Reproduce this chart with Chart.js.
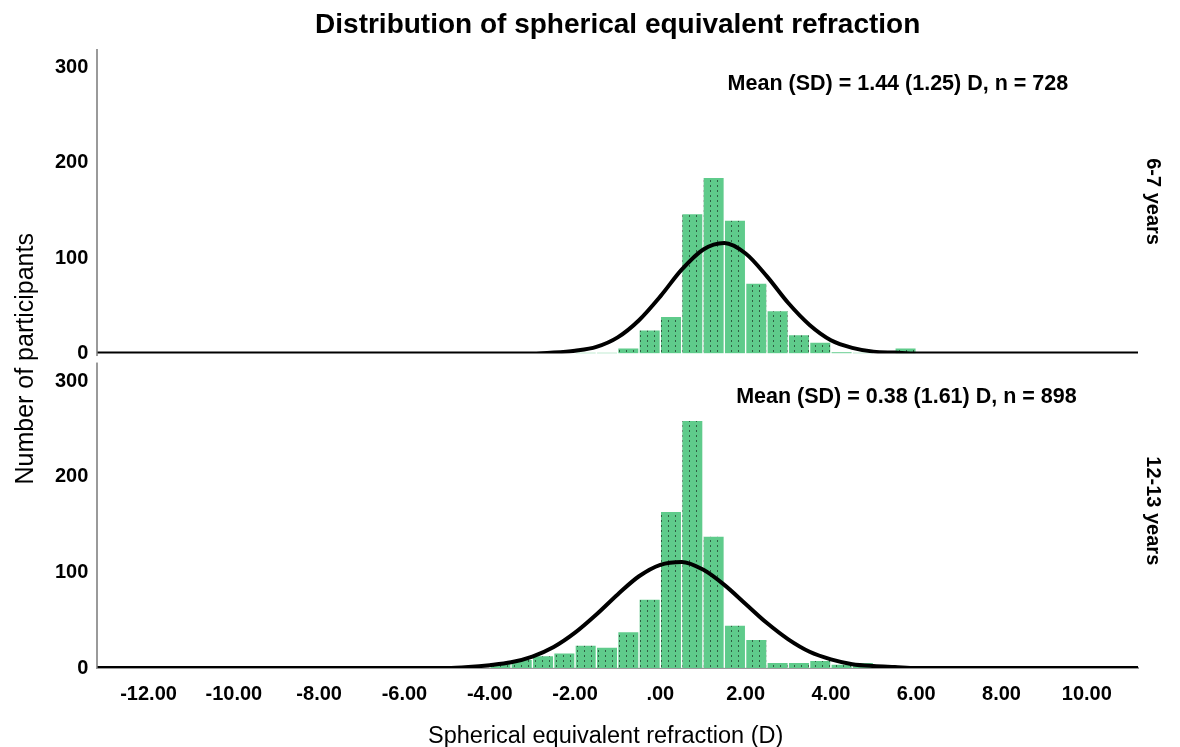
<!DOCTYPE html>
<html>
<head>
<meta charset="utf-8">
<title>Distribution of spherical equivalent refraction</title>
<script src="https://cdn.jsdelivr.net/npm/chart.js@4.4.1/dist/chart.umd.min.js"></script>
<style>
  html, body { margin: 0; padding: 0; background: #fff; }
  #wrap { width: 1180px; height: 747px; }
</style>
</head>
<body>
<div id="wrap"><canvas id="seChart"></canvas></div>
<script>
// histogram bins, 0.5 D wide (bin centres)
var binCenters = [-3.75, -3.25, -2.75, -2.25, -1.75, -1.25, -0.75, -0.25, 0.25, 0.75,
                  1.25, 1.75, 2.25, 2.75, 3.25, 3.75, 4.25, 4.75, 5.25, 5.75];
var counts67   = [0, 0, 0, 0, 1, 1, 6, 25, 39, 147, 185, 140, 74, 45, 20, 12, 2, 1, 0, 6];
var counts1213 = [6, 9, 13, 16, 24, 22, 38, 72, 164, 259, 138, 45, 30, 6, 6, 8, 4, 6, 1, 0];

// normal curve
var curveX = [-13.2, -6, -5.5, -5, -4.5, -4, -3.5, -3, -2.5, -2, -1.5, -1, -0.5, 0, 0.5,
              1, 1.5, 2, 2.5, 3, 3.5, 4, 4.5, 5, 5.5, 6, 6.5, 7, 11.2];
var curve67   = [0, 0, 0, 0, 0, 0, 0, 0, 1, 3, 7, 17, 35, 60, 88,
                 109, 116, 105, 81, 53, 30, 14, 6, 2, 1, 0, 0, 0, 0];
var curve1213 = [0, 0, 0, 0, 1, 3, 6, 12, 22, 37, 56, 77, 96, 108, 111,
                 103, 87, 67, 47, 30, 17, 9, 4, 2, 1, 0, 0, 0, 0];

var xTickValues = [-12, -10, -8, -6, -4, -2, 0, 2, 4, 6, 8, 10];
var panelLabels = ['6-7 years', '12-13 years'];
var panelNotes = ['Mean (SD) = 1.44 (1.25) D, n = 728', 'Mean (SD) = 0.38 (1.61) D, n = 898'];

var FONT = "'Liberation Sans', Arial, Helvetica, sans-serif";
Chart.defaults.font.family = FONT;
Chart.defaults.color = '#000';

function toPoints(xs, ys) {
	var out = [];
	for (var i = 0; i < xs.length; i++) {
		out.push({x: xs[i], y: ys[i]});
	}
	return out;
}

// green fill with the little dotted columns spss puts in the bars
function dottedFill() {
	var c = document.createElement('canvas');
	c.width = 7;
	c.height = 5;
	var g = c.getContext('2d');
	g.fillStyle = '#5fcb8b';
	g.fillRect(0, 0, 7, 5);
	g.fillStyle = '#2f5f42';
	g.fillRect(3, 0, 1, 2);
	return g.createPattern(c, 'repeat');
}
var barFill = dottedFill();

function barSet(ys, axis) {
	return {
		type: 'bar',
		data: toPoints(binCenters, ys),
		yAxisID: axis,
		backgroundColor: barFill,
		borderColor: 'rgba(255,255,255,0.75)',
		borderWidth: 1,
		borderSkipped: 'bottom',
		barPercentage: 1,
		categoryPercentage: 1,
		grouped: false,
		order: 1
	};
}

function curveSet(ys, axis) {
	return {
		type: 'line',
		data: toPoints(curveX, ys),
		yAxisID: axis,
		borderColor: '#000',
		borderWidth: 4,
		pointRadius: 0,
		fill: false,
		cubicInterpolationMode: 'monotone',
		order: 0
	};
}

//text that sits outside the normal axis titles
var panelText = {
	id: 'panelText',
	afterDraw: function(chart) {
		var g = chart.ctx;
		var area = chart.chartArea;
		var x = chart.scales.x;
		var panels = [chart.scales.yTop, chart.scales.yBot];
		var noteAt = [5.57, 5.77];

		g.save();
		// small break in the y axis line between the two panels
		g.fillStyle = '#fff';
		g.fillRect(area.left - 3, panels[0].bottom + 2.5, 5, 6.5);

		g.fillStyle = '#000';
		g.textAlign = 'center';
		g.textBaseline = 'middle';

		g.font = 'bold 21.5px ' + FONT;
		for (var i = 0; i < panels.length; i++) {
			g.fillText(panelNotes[i], x.getPixelForValue(noteAt[i]), panels[i].getPixelForValue(283));
		}

		g.font = 'bold 20px ' + FONT;
		for (var j = 0; j < panels.length; j++) {
			g.save();
			g.translate(area.right + 15, (panels[j].top + panels[j].bottom) / 2);
			g.rotate(Math.PI / 2);
			g.fillText(panelLabels[j], 0, 0);
			g.restore();
		}

		g.font = '25px ' + FONT;
		g.save();
		g.translate(26, (area.top + area.bottom) / 2);
		g.rotate(-Math.PI / 2);
		g.fillText('Number of participants', 0, 0);
		g.restore();

		g.font = '23.5px ' + FONT;
		g.fillText('Spherical equivalent refraction (D)', (area.left + area.right) / 2 - 12, 737);
		g.restore();
	}
};

function yScale(weight, share, max) {
	return {
		type: 'linear',
		position: 'left',
		stack: 'panels',
		stackWeight: share,
		weight: weight,
		min: 0,
		max: max,
		grid: {display: false, drawTicks: false},
		border: {display: true, color: '#9a9a9a', width: 2},
		ticks: {
			stepSize: 100,
			includeBounds: false,
			padding: 9,
			font: {size: 20, weight: 'bold'}
		}
	};
}

var ctx = document.getElementById('seChart');

var seChart = new Chart(ctx, {
	type: 'bar',
	data: {
		datasets: [
			curveSet(curve67, 'yTop'),
			curveSet(curve1213, 'yBot'),
			barSet(counts67, 'yTop'),
			barSet(counts1213, 'yBot')
		]
	},
	options: {
		responsive: true,
		maintainAspectRatio: false,
		animation: false,
		layout: {padding: {top: 0, left: 46, right: 42, bottom: 27}},
		plugins: {
			legend: {display: false},
			tooltip: {enabled: false},
			title: {
				display: true,
				fullSize: false,
				text: 'Distribution of spherical equivalent refraction',
				font: {size: 28, weight: 'bold'},
				color: '#000',
				padding: {top: 8, bottom: 8}
			}
		},
		scales: {
			x: {
				type: 'linear',
				min: -13.2,
				max: 11.2,
				offset: false,
				grid: {display: false, drawTicks: false, offset: false},
				border: {display: true, color: '#9a9a9a', width: 2},
				afterBuildTicks: function(axis) {
					axis.ticks = xTickValues.map(function(v) { return {value: v}; });
				},
				ticks: {
					autoSkip: false,
					maxRotation: 0,
					padding: 14,
					font: {size: 20, weight: 'bold'},
					callback: function(value) {
						return value === 0 ? '.00' : value.toFixed(2);
					}
				}
			},
			yTop: yScale(2, 303.5, 319),
			yBot: yScale(1, 314, 329)
		}
	},
	plugins: [panelText]
});
</script>
</body>
</html>
